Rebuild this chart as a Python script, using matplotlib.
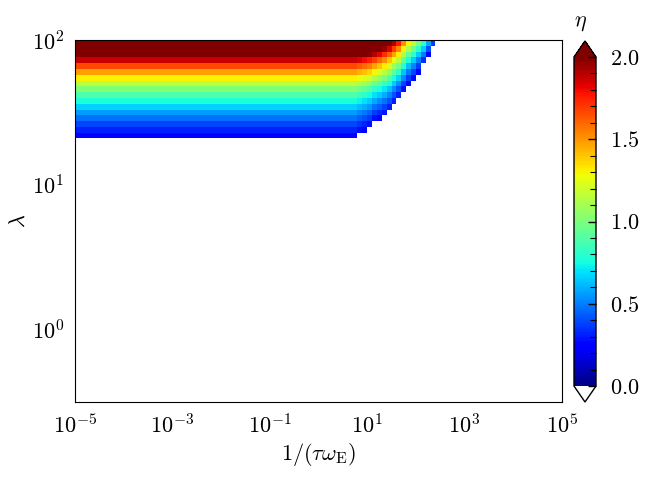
import numpy as np
import matplotlib
matplotlib.use('Agg')
import matplotlib.pyplot as plt

plt.rcParams['font.family'] = 'serif'
plt.rcParams['font.serif'] = ['cmr10']
plt.rcParams['mathtext.fontset'] = 'cm'
plt.rcParams['axes.formatter.use_mathtext'] = True
plt.rcParams['font.size'] = 16

# cell edges (log10) of the eta map
lam_edge_exp = [1.32, 1.36, 1.40, 1.44, 1.48, 1.52, 1.56, 1.60, 1.64,
                1.68, 1.72, 1.76, 1.80, 1.84, 1.88, 1.92, 1.96, 2.00]
x_edge_exp = [-5, 0.8, 0.9, 1.0, 1.1, 1.2, 1.3, 1.4, 1.5, 1.6,
              1.7, 1.8, 1.9, 2.0, 2.1, 2.2, 2.3, 2.4]

# eta on the flat left part, one per lambda row (bottom to top)
eta_left = [0.25, 0.32, 0.39, 0.47, 0.56, 0.66, 0.77, 0.89, 1.01,
            1.15, 1.31, 1.48, 1.67, 1.87, 2.09, 2.34, 2.61]

# eta in the bend, columns from 10^0.8 onward, until the white edge
eta_bend = [
    [],
    [0.28, 0.25],
    [0.35, 0.32, 0.28],
    [0.43, 0.40, 0.36, 0.28, 0.25],
    [0.52, 0.49, 0.45, 0.37, 0.33, 0.29],
    [0.62, 0.59, 0.55, 0.47, 0.43, 0.38, 0.31],
    [0.73, 0.69, 0.65, 0.58, 0.53, 0.48, 0.41, 0.31],
    [0.85, 0.81, 0.77, 0.69, 0.65, 0.59, 0.51, 0.41, 0.31],
    [0.98, 0.94, 0.90, 0.82, 0.77, 0.71, 0.63, 0.52, 0.41, 0.28],
    [1.12, 1.08, 1.04, 0.96, 0.91, 0.84, 0.76, 0.65, 0.53, 0.39, 0.26],
    [1.27, 1.24, 1.20, 1.12, 1.06, 0.99, 0.90, 0.78, 0.67, 0.51, 0.37, 0.27],
    [1.44, 1.41, 1.37, 1.29, 1.22, 1.15, 1.05, 0.93, 0.81, 0.64, 0.49, 0.39, 0.25],
    [1.63, 1.59, 1.55, 1.47, 1.40, 1.32, 1.22, 1.09, 0.97, 0.79, 0.62, 0.51, 0.37],
    [1.83, 1.79, 1.75, 1.68, 1.60, 1.51, 1.40, 1.27, 1.14, 0.95, 0.77, 0.65, 0.50, 0.34],
    [2.05, 2.02, 1.98, 1.90, 1.82, 1.72, 1.61, 1.47, 1.32, 1.12, 0.93, 0.81, 0.65, 0.49, 0.26],
    [2.30, 2.26, 2.22, 2.15, 2.06, 1.95, 1.83, 1.68, 1.53, 1.31, 1.11, 0.97, 0.81, 0.65, 0.41],
    [2.57, 2.53, 2.49, 2.42, 2.32, 2.21, 2.07, 1.92, 1.76, 1.52, 1.30, 1.16, 0.99, 0.82, 0.58, 0.36],
]

nrow = len(eta_left)
ncol = len(x_edge_exp) - 1
C = np.full((nrow, ncol), np.nan)
for i in range(nrow):
    C[i, 0] = eta_left[i]
    row = eta_bend[i]
    C[i, 1:1 + len(row)] = row
C = np.ma.masked_invalid(C)

X = 10.0 ** np.array(x_edge_exp)
Y = 10.0 ** np.array(lam_edge_exp)

cmap = plt.get_cmap('jet').copy()
cmap.set_under('white')

fig = plt.figure(figsize=(6.52, 4.80), dpi=100)
ax = fig.add_axes([75 / 652, 78 / 480, 487 / 652, 362 / 480])
mesh = ax.pcolormesh(X, Y, C, cmap=cmap, vmin=0, vmax=2,
                     shading='flat', edgecolors='none', antialiased=False)
ax.set_xscale('log')
ax.set_yscale('log')
ax.set_xlim(1e-5, 1e5)
ax.set_ylim(10 ** -0.5, 100)
ax.set_xticks([1e-5, 1e-3, 1e-1, 1e1, 1e3, 1e5])
ax.set_yticks([1e0, 1e1, 1e2])
ax.minorticks_off()
ax.tick_params(length=0, pad=8)
ax.set_xlabel(r'$1/(\tau\omega_{\rm E})$', labelpad=3)
ax.set_ylabel(r'$\lambda$', labelpad=2)

cax = fig.add_axes([574 / 652, 78 / 480, 22 / 652, 361 / 480])
cb = fig.colorbar(mesh, cax=cax, extend='both', extendfrac=0.0485)
cb.set_ticks([0.0, 0.5, 1.0, 1.5, 2.0])
cb.ax.yaxis.set_minor_locator(matplotlib.ticker.MultipleLocator(0.1))
cb.ax.tick_params(which='major', direction='in', length=6, width=1, pad=10)
cb.ax.tick_params(which='minor', direction='in', length=4, width=0.8)
cb.outline.set_linewidth(1)
fig.text(581 / 652, 1 - 23 / 480, r'$\eta$', ha='center', va='center')

fig.savefig('out.png', dpi=100)
